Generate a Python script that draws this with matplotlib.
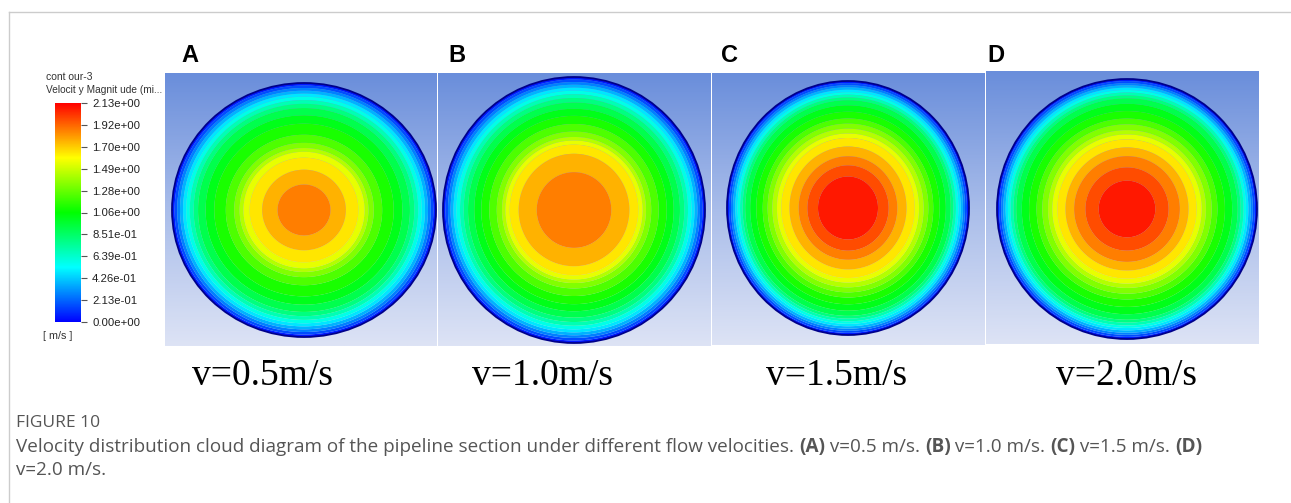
import numpy as np
import matplotlib
matplotlib.use("Agg")
import matplotlib.pyplot as plt
from matplotlib.colors import ListedColormap, LinearSegmentedColormap, Normalize, hsv_to_rgb
from matplotlib.patches import Ellipse
from matplotlib.cm import ScalarMappable

# ---------------- data ----------------
panel_letters = ["A", "B", "C", "D"]
speed_labels = ["v=0.5m/s", "v=1.0m/s", "v=1.5m/s", "v=2.0m/s"]
# normalised radius from pipe centre (0) to wall (1)
radius_frac = [0.0, 0.1, 0.2, 0.3, 0.4, 0.45, 0.5, 0.55, 0.6, 0.7, 0.8, 0.85, 0.9, 0.95, 1.0]
vel_A = [1.88, 1.87, 1.81, 1.72, 1.62, 1.52, 1.34, 1.23, 1.16, 1.04, 0.86, 0.70, 0.50, 0.27, 0.0]
vel_B = [1.91, 1.90, 1.86, 1.80, 1.73, 1.67, 1.58, 1.38, 1.25, 1.08, 0.88, 0.72, 0.52, 0.28, 0.0]
vel_C = [2.12, 2.11, 2.07, 1.97, 1.82, 1.75, 1.68, 1.60, 1.45, 1.18, 0.98, 0.85, 0.60, 0.32, 0.0]
vel_D = [2.12, 2.10, 2.04, 1.94, 1.82, 1.74, 1.66, 1.57, 1.40, 1.16, 0.98, 0.86, 0.62, 0.33, 0.0]
profiles = [vel_A, vel_B, vel_C, vel_D]
vmin, vmax = 0.0, 2.1285
n_bands = 20
cbar_tick_labels = ["0.00e+00", "2.13e-01", "4.26e-01", "6.39e-01", "8.51e-01",
                    "1.06e+00", "1.28e+00", "1.49e+00", "1.70e+00", "1.92e+00",
                    "2.13e+00"]

# ---------------- layout (pixels) ----------------
W, H = 1291, 503
fig = plt.figure(figsize=(W / 100, H / 100), dpi=100)
fig.patch.set_facecolor("white")

def fx(px):
    return px / W

def fy(py):
    return 1 - py / H

# panel boxes: x0, y0, w, h ; ellipse centre and radii in panel-local px
panels = [
    dict(x0=165, y0=73, w=272, h=273, cx=139, cy=137, rx=132, ry=127),
    dict(x0=438, y0=73, w=273, h=273, cx=136, cy=137, rx=131, ry=133),
    dict(x0=712, y0=73, w=273, h=272, cx=136, cy=135, rx=121, ry=127),
    dict(x0=986, y0=71, w=273, h=273, cx=141, cy=138, rx=130, ry=130),
]
letter_x = [181, 448, 721, 987]
speed_x = [263, 543, 837, 1127]

# Fluent-like rainbow colormap (blue -> cyan -> green -> yellow -> red)
t = np.linspace(0, 1, 512)
hsv = np.stack([(1 - t) * 2 / 3, np.ones_like(t), np.ones_like(t)], axis=1)
fluent = ListedColormap(hsv_to_rgb(hsv))
bg_cmap = LinearSegmentedColormap.from_list("bg", ["#6A8EDB", "#A9BDEA", "#DDE3F5"])

levels = np.linspace(vmin, vmax, n_bands + 1)

for p, prof, letter, lab, lx, sx in zip(panels, profiles, panel_letters,
                                        speed_labels, letter_x, speed_x):
    ax = fig.add_axes([fx(p["x0"]), fy(p["y0"] + p["h"]), fx(p["w"]), p["h"] / H])
    ax.set_xlim(0, p["w"])
    ax.set_ylim(p["h"], 0)
    ax.axis("off")
    grad = np.linspace(0, 1, 200).reshape(-1, 1)
    ax.imshow(grad, extent=(0, p["w"], p["h"], 0), aspect="auto", cmap=bg_cmap,
              interpolation="bilinear", zorder=0)
    xs = np.linspace(0, p["w"], 700)
    ys = np.linspace(0, p["h"], 700)
    X, Y = np.meshgrid(xs, ys)
    rho = np.sqrt(((X - p["cx"]) / p["rx"]) ** 2 + ((Y - p["cy"]) / p["ry"]) ** 2)
    field = np.interp(rho, radius_frac, prof)
    field = np.ma.masked_where(rho > 1.0, field)
    ax.contourf(X, Y, field, levels=levels, cmap=fluent, vmin=vmin, vmax=vmax,
                zorder=1, antialiased=True)
    ax.add_patch(Ellipse((p["cx"], p["cy"]), 2 * p["rx"], 2 * p["ry"], fill=False,
                         edgecolor="#00008A", lw=1.3, zorder=2))
    fig.text(fx(lx), fy(56), letter, fontsize=17, fontweight="bold",
             family="Liberation Sans", ha="left", va="center", color="black")
    fig.text(fx(sx), fy(376), lab, fontsize=27, family="Liberation Serif",
             ha="center", va="center", color="black")

# ---------------- colour bar ----------------
cax = fig.add_axes([fx(55), fy(322), fx(26), (322 - 103) / H])
sm = ScalarMappable(norm=Normalize(vmin, vmax), cmap=fluent)
cb = fig.colorbar(sm, cax=cax)
cb.outline.set_visible(False)
ticks = np.linspace(vmin, vmax, len(cbar_tick_labels))
cb.set_ticks(ticks)
cb.set_ticklabels(cbar_tick_labels)
cax.tick_params(axis="y", length=4, width=0.8, color="#555555", pad=4,
                labelsize=8.2, labelcolor="#222222")
for tl in cax.get_yticklabels():
    tl.set_family("Liberation Sans")

fig.text(fx(46), fy(77), "cont our-3", fontsize=7.5, family="Liberation Sans",
         color="#333333", va="center", ha="left")
fig.text(fx(46), fy(90), "Velocit y Magnit ude (mi...", fontsize=7.3,
         family="Liberation Sans", color="#333333", va="center", ha="left")
fig.text(fx(43), fy(336), "[ m/s ]", fontsize=7.8, family="Liberation Sans",
         color="#333333", va="center", ha="left")

# ---------------- card border ----------------
fig.add_artist(plt.Line2D([fx(8.5), fx(8.5)], [fy(12), 0], color="#cccccc", lw=1))
fig.add_artist(plt.Line2D([fx(8.5), 1], [fy(12), fy(12)], color="#cccccc", lw=1))

# ---------------- caption ----------------
cap_color = "#555555"
cap_size = 13.6
fig.text(fx(16), fy(423), "FIGURE 10", fontsize=12.5, family="Open Sans",
         color=cap_color, va="center", ha="left")

renderer = fig.canvas.get_renderer()

def draw_runs(x_px, y_px, runs):
    x = x_px
    for txt, bold in runs:
        tt = fig.text(fx(x), fy(y_px), txt, fontsize=cap_size, family="Open Sans",
                      fontweight="bold" if bold else "normal", color=cap_color,
                      va="center", ha="left")
        x += tt.get_window_extent(renderer=renderer).width

line1 = [("Velocity distribution cloud diagram of the pipeline section under "
          "different flow velocities. ", False),
         ("(A)", True), (" v=0.5 m/s. ", False),
         ("(B)", True), (" v=1.0 m/s. ", False),
         ("(C)", True), (" v=1.5 m/s. ", False),
         ("(D)", True)]
draw_runs(16, 447, line1)
draw_runs(16, 470, [("v=2.0 m/s.", False)])

fig.savefig("out.png", dpi=100, facecolor="white")
